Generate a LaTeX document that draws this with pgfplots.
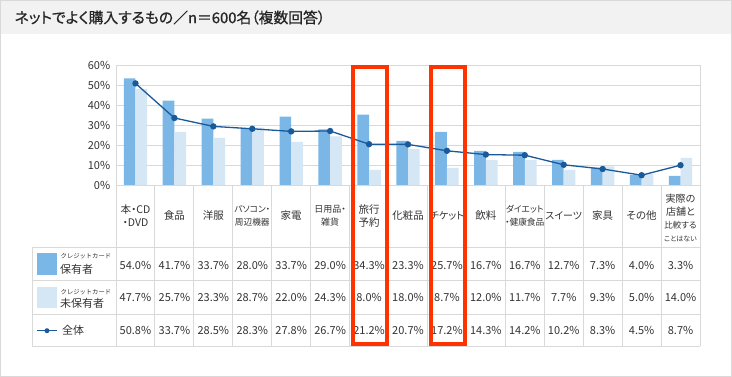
\documentclass[border=0pt]{standalone}
\usepackage{fontspec}
\setmainfont{Noto Sans CJK JP}[RawFeature=+palt]
\newfontfamily\titlefont{Noto Sans CJK JP}[RawFeature=+palt, FakeBold=0.8]
\newfontfamily\plainfont{Noto Sans CJK JP}
\usepackage{pgfplots}
\pgfplotsset{compat=1.18}
\definecolor{darkbar}{HTML}{7AB6E6}
\definecolor{lightbar}{HTML}{D5E6F5}
\definecolor{lineblue}{HTML}{1A5A9A}
\definecolor{gridc}{HTML}{D9D9D9}
\definecolor{hl}{HTML}{FF3300}
\definecolor{titlebg}{HTML}{F2F2F2}
\definecolor{txt}{HTML}{333333}
\newcommand{\fs}[1]{\fontsize{#1}{13}\selectfont}
\begin{document}
\begin{tikzpicture}[x=1pt,y=1pt]
\fill[white] (0,0) rectangle (732,377);
\fill[titlebg] (0,377) rectangle (732,342.5);
\draw[gridc, line width=1pt] (0.5,0.5) rectangle (731.5,376.5);
\node[anchor=west, text=black!85, inner sep=0pt, font=\titlefont\fs{14.8}] at (14.5,359.5) {ネットでよく購入するもの／n＝600名（複数回答）};

\begin{axis}[
  at={(116pt,192pt)}, anchor=south west,
  scale only axis, width=584pt, height=120pt,
  xmin=-0.5, xmax=14.5, ymin=0, ymax=60,
  xtick=\empty, ytick={0,10,20,30,40,50,60},
  yticklabels={0\%,10\%,20\%,30\%,40\%,50\%,60\%},
  ymajorgrids, major grid style={draw=gridc, line width=0.9pt},
  axis line style={draw=gridc, line width=0.9pt},
  major tick length=0pt,
  yticklabel style={font=\fs{11}, text=txt, xshift=-2.3pt},
  clip=false,
]
\addplot[ybar, bar width=11.7pt, bar shift=-5.85pt, fill=darkbar, draw=none] coordinates {
 (0,53.3) (1,42.2) (2,33.2) (3,28.0) (4,34.2) (5,27.8) (6,35.2) (7,22.1)
 (8,26.6) (9,17.1) (10,16.6) (11,12.6) (12,8.7) (13,5.0) (14,4.5)};
\addplot[ybar, bar width=11.7pt, bar shift=5.85pt, fill=lightbar, draw=none] coordinates {
 (0,47.9) (1,26.6) (2,23.6) (3,28.7) (4,21.6) (5,24.3) (6,7.5) (7,18.1)
 (8,8.5) (9,12.6) (10,12.6) (11,7.5) (12,9.3) (13,5.5) (14,13.6)};
\addplot[lineblue, line width=1.3pt, mark=*, mark size=2.5pt,
  mark options={fill=lineblue, draw=lineblue}] coordinates {
 (0,50.8) (1,33.5) (2,29.3) (3,28.1) (4,26.8) (5,27.0) (6,20.4) (7,20.3)
 (8,17.1) (9,15.2) (10,14.9) (11,10.1) (12,8.0) (13,4.9) (14,9.9)};
\end{axis}

% table grid
\begin{scope}[gridc, line width=0.9pt]
\foreach \py in {247,280.5,314,346} \draw (32,377-\py) -- (700,377-\py);
\draw (116,192) -- (700,192);
\foreach \k in {0,...,15} \draw ({116+\k*38.9333},192) -- ({116+\k*38.9333},31);
\draw (32,130) -- (32,31);
\end{scope}

% header labels
\begin{scope}[every node/.style={align=center, text=txt, inner sep=0pt}]
\def\cx#1{116+(#1+0.5)*38.9333}
\node[font=\fs{10.5}] at ({\cx{0}},161) {本・CD\\・DVD};
\node[font=\fs{10.5}] at ({\cx{1}},161) {食品};
\node[font=\fs{10.5}] at ({\cx{2}},161) {洋服};
\node[font=\fs{8.7}] at ({\cx{3}},161) {パソコン・\\周辺機器};
\node[font=\fs{10.5}] at ({\cx{4}},161) {家電};
\node[font=\fs{9}] at ({\cx{5}},161) {日用品・\\雑貨};
\node[font=\fs{10.5}] at ({\cx{6}},161) {旅行\\予約};
\node[font=\fs{10.5}] at ({\cx{7}},161) {化粧品};
\node[font=\fs{10}] at ({\cx{8}},161) {チケット};
\node[font=\fs{10.5}] at ({\cx{9}},161) {飲料};
\node[font=\fs{8.7}] at ({\cx{10}},161) {ダイエット\\・健康食品};
\node[font=\fs{10}] at ({\cx{11}},161) {スイーツ};
\node[font=\fs{10.5}] at ({\cx{12}},161) {家具};
\node[font=\fs{10.5}] at ({\cx{13}},161) {その他};
\node[font=\fs{10}] at ({\cx{14}},159.5) {実際の\\店舗と\\{\fs{8.5}比較する}\\{\fs{7}ことはない}};

% values
\foreach \v [count=\i from 0] in {54.0,41.7,33.7,28.0,33.7,29.0,34.3,23.3,25.7,16.7,16.7,12.7,7.3,4.0,3.3}
  \node[font=\fs{11}] at ({116+(\i+0.5)*38.9333},111.5) {\v\%};
\foreach \v [count=\i from 0] in {47.7,25.7,23.3,28.7,22.0,24.3,8.0,18.0,8.7,12.0,11.7,7.7,9.3,5.0,14.0}
  \node[font=\fs{11}] at ({116+(\i+0.5)*38.9333},79.5) {\v\%};
\foreach \v [count=\i from 0] in {50.8,33.7,28.5,28.3,27.8,26.7,21.2,20.7,17.2,14.3,14.2,10.2,8.3,4.5,8.7}
  \node[font=\fs{11}] at ({116+(\i+0.5)*38.9333},46.5) {\v\%};

% legend cells
\fill[darkbar] (37,124) rectangle (57,102);
\node[anchor=west, font=\plainfont\fs{6.3}] at (60.5,120.5) {クレジットカード};
\node[anchor=west, font=\fs{11}] at (60,108) {保有者};
\fill[lightbar] (37,90.3) rectangle (57,68.7);
\node[anchor=west, font=\plainfont\fs{6.3}] at (60.5,85.3) {クレジットカード};
\node[anchor=west, font=\fs{11}] at (60,73.7) {未保有者};
\draw[lineblue, line width=1.3pt] (37,46.3) -- (57,46.3);
\fill[lineblue] (47,46.3) circle (2.5);
\node[anchor=west, font=\fs{11}] at (62,46.3) {全体};
\end{scope}

% highlight boxes
\draw[hl, line width=3.6pt] (353,377-67.3) rectangle (387,377-344);
\draw[hl, line width=3.6pt] (431,377-67.3) rectangle (465,377-344);
\pgfresetboundingbox
\path[use as bounding box] (0,0) rectangle (732,377);
\end{tikzpicture}
\end{document}
